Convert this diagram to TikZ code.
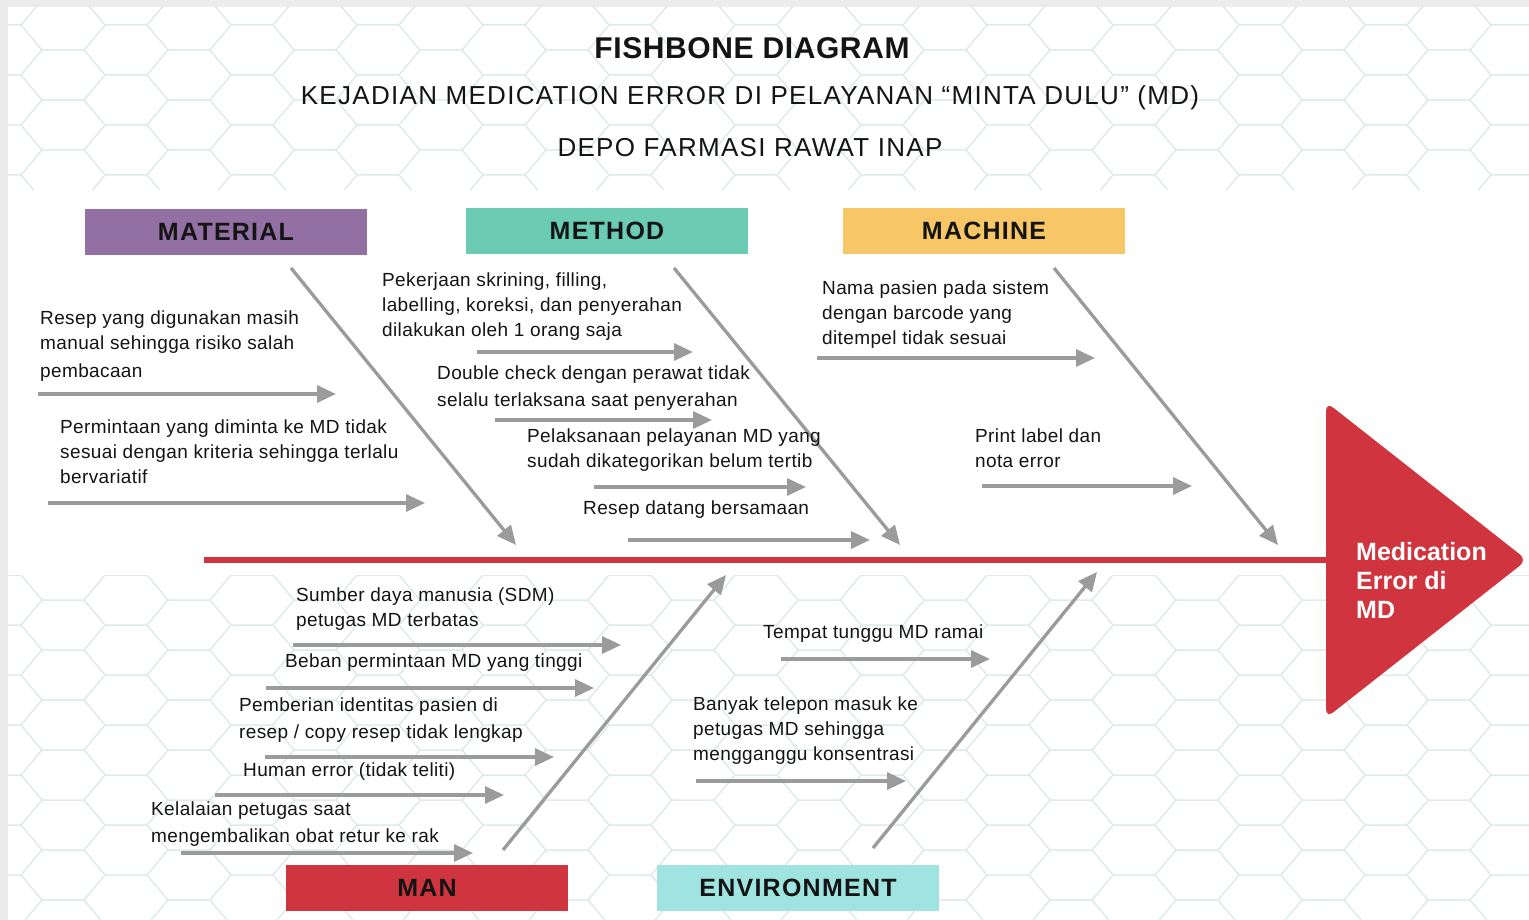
\documentclass[tikz,border=0pt]{standalone}
\usepackage{fontspec}
\setmainfont{Liberation Sans}
\usetikzlibrary{arrows.meta}
\definecolor{matpurple}{HTML}{9370A3}
\definecolor{methteal}{HTML}{6CCBB3}
\definecolor{machyellow}{HTML}{F6C667}
\definecolor{manred}{HTML}{D0343E}
\definecolor{envcyan}{HTML}{9FE4E1}
\definecolor{bonegray}{HTML}{9B9B9B}
\definecolor{framegray}{HTML}{ECECEC}
\definecolor{txtblack}{HTML}{141414}
\definecolor{hexline}{HTML}{DDE8EA}
\begin{document}
\begin{tikzpicture}[x=1pt,y=-1pt,
  cause/.style={draw=bonegray, line width=3.3pt, -{Triangle[length=19pt,width=17pt]}},
  txt/.style={anchor=north west, inner sep=0pt, align=left, font=\fontsize{19}{25}\selectfont\addfontfeature{LetterSpace=2}, text=txtblack},
  cat/.style={minimum width=282pt, minimum height=46pt, inner sep=0pt, font=\fontsize{25}{28}\selectfont\bfseries\addfontfeature{LetterSpace=5}, text=txtblack},
  ttl/.style={inner sep=0pt, text=txtblack},
  hexcell/.style={draw=hexline, line width=1pt}
]
\useasboundingbox (0,0) rectangle (1529,920);
\fill[framegray] (0,0) rectangle (1529,920);
\fill[white] (8,7) rectangle (1529,920);

% faint hexagon mesh in the background
\begin{scope}
  \clip (8,7) rectangle (1529,190) (8,575) rectangle (1529,920);
  \foreach \c in {0,...,26}{
    \foreach \r in {0,...,19}{
      \pgfmathsetmacro{\cx}{\c*63}
      \pgfmathsetmacro{\cy}{\r*50 + mod(\c,2)*25}
      \draw[hexcell] (\cx-42,\cy) -- (\cx-21,\cy-25) -- (\cx+21,\cy-25) -- (\cx+42,\cy) -- (\cx+21,\cy+25) -- (\cx-21,\cy+25) -- cycle;
    }
  }
\end{scope}

% titles
\node[ttl, font=\fontsize{30}{32}\selectfont\bfseries\addfontfeature{LetterSpace=2}] (t1) at (752,48) {FISHBONE DIAGRAM};
\node[ttl, font=\fontsize{26}{28}\selectfont\addfontfeature{LetterSpace=5}] (t2) at (750,98) {KEJADIAN MEDICATION ERROR DI PELAYANAN “MINTA DULU” (MD)};
\node[ttl, font=\fontsize{26}{28}\selectfont\addfontfeature{LetterSpace=5}] (t3) at (750,148) {DEPO FARMASI RAWAT INAP};

% categories
\node[cat, fill=matpurple] (material) at (226,232) {MATERIAL};
\node[cat, fill=methteal] (method) at (607,231) {METHOD};
\node[cat, fill=machyellow] (machine) at (984,231) {MACHINE};
\node[cat, fill=manred] (man) at (427,888) {MAN};
\node[cat, fill=envcyan] (environment) at (798,888) {ENVIRONMENT};

% spine and head
\coordinate (tail) at (204,560);
\coordinate (headbase) at (1330,560);
\draw[manred, line width=6pt] (tail) -- (headbase);
\fill[manred, rounded corners=9pt] (1326,402) -- (1527,560) -- (1326,718) -- cycle;
\node[anchor=north west, inner sep=0pt, align=left, text=white,
      font=\fontsize{25}{29}\selectfont\bfseries] (effect) at (1356,542) {Medication\\Error di\\MD};

% main bones
\coordinate (matA) at (291,268); \coordinate (matB) at (516,545);
\coordinate (metA) at (674,268); \coordinate (metB) at (900,545);
\coordinate (macA) at (1054,268); \coordinate (macB) at (1278,545);
\coordinate (manA) at (503,850); \coordinate (manB) at (726,575);
\coordinate (envA) at (873,848); \coordinate (envB) at (1097,572);
\draw[cause] (matA) -- (matB);
\draw[cause] (metA) -- (metB);
\draw[cause] (macA) -- (macB);
\draw[cause] (manA) -- (manB);
\draw[cause] (envA) -- (envB);

% MATERIAL causes
\node[txt] (m1) at (40,311) {Resep yang digunakan masih\\manual sehingga risiko salah\\[3pt]pembacaan};
\coordinate (m1a) at (38,394); \coordinate (m1b) at (336,394);
\draw[cause] (m1a) -- (m1b);
\node[txt] (m2) at (60,420) {Permintaan yang diminta ke MD tidak\\sesuai dengan kriteria sehingga terlalu\\bervariatif};
\coordinate (m2a) at (48,503); \coordinate (m2b) at (425,503);
\draw[cause] (m2a) -- (m2b);

% METHOD causes
\node[txt] (e1) at (382,273) {Pekerjaan skrining, filling,\\labelling, koreksi, dan penyerahan\\dilakukan oleh 1 orang saja};
\coordinate (e1a) at (477,352); \coordinate (e1b) at (693,352);
\draw[cause] (e1a) -- (e1b);
\node[txt] (e2) at (437,366) {Double check dengan perawat tidak\\[2pt]selalu terlaksana saat penyerahan};
\coordinate (e2a) at (495,420); \coordinate (e2b) at (712,420);
\draw[cause] (e2a) -- (e2b);
\node[txt] (e3) at (527,429) {Pelaksanaan pelayanan MD yang\\sudah dikategorikan belum tertib};
\coordinate (e3a) at (594,487); \coordinate (e3b) at (806,487);
\draw[cause] (e3a) -- (e3b);
\node[txt] (e4) at (583,501) {Resep datang bersamaan};
\coordinate (e4a) at (628,540); \coordinate (e4b) at (870,540);
\draw[cause] (e4a) -- (e4b);

% MACHINE causes
\node[txt] (c1) at (822,281) {Nama pasien pada sistem\\dengan barcode yang\\ditempel tidak sesuai};
\coordinate (c1a) at (817,358); \coordinate (c1b) at (1095,358);
\draw[cause] (c1a) -- (c1b);
\node[txt] (c2) at (975,429) {Print label dan\\nota error};
\coordinate (c2a) at (982,486); \coordinate (c2b) at (1192,486);
\draw[cause] (c2a) -- (c2b);

% MAN causes
\node[txt] (h1) at (296,588) {Sumber daya manusia (SDM)\\petugas MD terbatas};
\coordinate (h1a) at (293,645); \coordinate (h1b) at (621,645);
\draw[cause] (h1a) -- (h1b);
\node[txt] (h2) at (285,654) {Beban permintaan MD yang tinggi};
\coordinate (h2a) at (266,688); \coordinate (h2b) at (594,688);
\draw[cause] (h2a) -- (h2b);
\node[txt] (h3) at (239,698) {Pemberian identitas pasien di\\[2pt]resep / copy resep tidak lengkap};
\coordinate (h3a) at (265,757); \coordinate (h3b) at (554,757);
\draw[cause] (h3a) -- (h3b);
\node[txt] (h4) at (243,763) {Human error (tidak teliti)};
\coordinate (h4a) at (215,795); \coordinate (h4b) at (504,795);
\draw[cause] (h4a) -- (h4b);
\node[txt] (h5) at (151,802) {Kelalaian petugas saat\\[2pt]mengembalikan obat retur ke rak};
\coordinate (h5a) at (181,853); \coordinate (h5b) at (473,853);
\draw[cause] (h5a) -- (h5b);

% ENVIRONMENT causes
\node[txt] (v1) at (763,625) {Tempat tunggu MD ramai};
\coordinate (v1a) at (781,659); \coordinate (v1b) at (990,659);
\draw[cause] (v1a) -- (v1b);
\node[txt] (v2) at (693,697) {Banyak telepon masuk ke\\petugas MD sehingga\\mengganggu konsentrasi};
\coordinate (v2a) at (696,781); \coordinate (v2b) at (906,781);
\draw[cause] (v2a) -- (v2b);
\end{tikzpicture}
\end{document}
